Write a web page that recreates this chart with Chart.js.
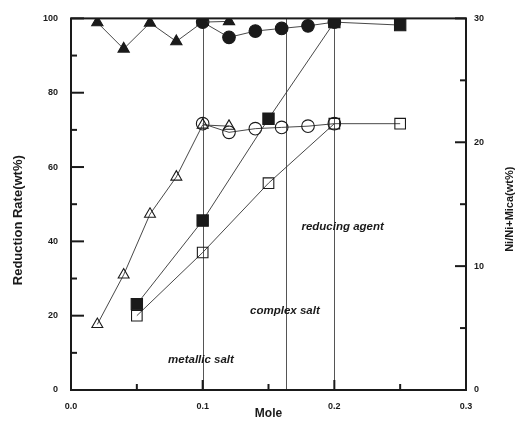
<!DOCTYPE html>
<html>
<head>
<meta charset="utf-8">
<script src="https://cdn.jsdelivr.net/npm/chart.js@4/dist/chart.umd.min.js"></script>
<style>
  html, body { margin: 0; padding: 0; background: #fff; }
  #wrap { width: 523px; height: 424px; }
</style>
</head>
<body>
<div id="wrap"><canvas id="c" width="523" height="424"></canvas></div>
<script>
// Mole fractions of each additive series
const metalMole   = [0.02, 0.04, 0.06, 0.08, 0.10, 0.12];
const complexMole = [0.10, 0.12, 0.14, 0.16, 0.18, 0.20];
const reducMole   = [0.05, 0.10, 0.15, 0.20, 0.25];

// Reduction rate (wt%), left axis
const metalRate   = [98.9, 91.8, 98.8, 93.8, 99.0, 99.2];
const complexRate = [99.0, 94.9, 96.6, 97.3, 98.0, 99.0];
const reducRate   = [23.1, 45.6, 73.0, 99.0, 98.2];

// Ni/Ni+Mica (wt%), right axis
const metalNi   = [5.3, 9.3, 14.2, 17.2, 21.4, 21.3];
const complexNi = [21.5, 20.8, 21.1, 21.2, 21.3, 21.5];
const reducNi   = [6.0, 11.1, 16.7, 21.5, 21.5];

// Axis ticks
const xTicks = [0.0, 0.1, 0.2, 0.3];
const xMinor = [0.05, 0.15, 0.25];
const leftTicks = [0, 20, 40, 60, 80, 100];
const leftMinor = [10, 30, 50, 70, 90];
const rightTicks = [0, 10, 20, 30];
const rightMinor = [5, 15, 25];

// Region boundaries and their labels
const boundaries = [0.1, 0.163, 0.2];
const regionLabels = ['metallic salt', 'complex salt', 'reducing agent'];
const regionAnchors = [[0.0737, 8.2], [0.136, 21.2], [0.175, 43.8]];

const INK = '#1a1a1a';
const pts = (xs, ys) => xs.map((x, i) => ({ x: x, y: ys[i] }));

function series(xs, ys, axis, style, filled, radius) {
  return {
    data: pts(xs, ys),
    yAxisID: axis,
    showLine: true,
    borderColor: '#333',
    borderWidth: 0.9,
    pointStyle: style,
    pointRadius: radius,
    pointBorderColor: INK,
    pointBorderWidth: 1.1,
    pointBackgroundColor: filled ? INK : 'rgba(0,0,0,0)',
    tension: 0
  };
}

const frame = {
  id: 'frame',
  beforeDatasetsDraw(chart) {
    const { ctx, chartArea: a, scales } = chart;
    ctx.save();
    ctx.strokeStyle = '#555';
    ctx.lineWidth = 1;
    boundaries.forEach(v => {
      const x = Math.round(scales.x.getPixelForValue(v)) + 0.5;
      ctx.beginPath();
      ctx.moveTo(x, a.top);
      ctx.lineTo(x, a.bottom);
      ctx.stroke();
    });
    ctx.restore();
  },
  afterDatasetsDraw(chart) {
    const { ctx, chartArea: a, scales } = chart;
    ctx.save();
    // plot border
    ctx.strokeStyle = INK;
    ctx.lineWidth = 2;
    ctx.strokeRect(a.left, a.top, a.right - a.left, a.bottom - a.top);

    // inward tick marks
    const hTick = (scale, vals, len, fromLeft) => vals.forEach(v => {
      const y = scale.getPixelForValue(v);
      ctx.beginPath();
      if (fromLeft) { ctx.moveTo(a.left, y); ctx.lineTo(a.left + len, y); }
      else { ctx.moveTo(a.right, y); ctx.lineTo(a.right - len, y); }
      ctx.stroke();
    });
    hTick(scales.y, leftTicks, 13, true);
    hTick(scales.y, leftMinor, 6, true);
    hTick(scales.y2, rightTicks, 11, false);
    hTick(scales.y2, rightMinor, 6, false);
    const vTick = (vals, len) => vals.forEach(v => {
      const x = scales.x.getPixelForValue(v);
      ctx.beginPath();
      ctx.moveTo(x, a.bottom);
      ctx.lineTo(x, a.bottom - len);
      ctx.stroke();
    });
    vTick(xTicks, 10);
    vTick(xMinor, 6);

    // region labels
    ctx.fillStyle = INK;
    ctx.font = 'italic bold 11.5px "Liberation Sans", Arial, sans-serif';
    ctx.textBaseline = 'middle';
    ctx.textAlign = 'left';
    regionLabels.forEach((t, i) => {
      const [mx, my] = regionAnchors[i];
      ctx.fillText(t, scales.x.getPixelForValue(mx), scales.y.getPixelForValue(my));
    });

    // axis titles
    ctx.textAlign = 'center';
    ctx.font = 'bold 12px "Liberation Sans", Arial, sans-serif';
    ctx.fillText('Mole', (a.left + a.right) / 2, 414);
    ctx.save();
    ctx.translate(18, (a.top + a.bottom) / 2 + 16);
    ctx.rotate(-Math.PI / 2);
    ctx.font = 'bold 13px "Liberation Sans", Arial, sans-serif';
    ctx.fillText('Reduction Rate(wt%)', 0, 0);
    ctx.restore();
    ctx.save();
    ctx.translate(510, (a.top + a.bottom) / 2 + 5);
    ctx.rotate(-Math.PI / 2);
    ctx.font = 'bold 11px "Liberation Sans", Arial, sans-serif';
    ctx.fillText('Ni/Ni+Mica(wt%)', 0, 0);
    ctx.restore();
    ctx.restore();
  }
};

const tickFont = { family: '"Liberation Sans", Arial, sans-serif', size: 9, weight: 'bold' };

new Chart(document.getElementById('c'), {
  type: 'line',
  data: {
    datasets: [
      series(metalMole, metalRate, 'y', 'triangle', true, 6.5),
      series(complexMole, complexRate, 'y', 'circle', true, 6.3),
      series(reducMole, reducRate, 'y', 'rect', true, 8),
      series(metalMole, metalNi, 'y2', 'triangle', false, 6.3),
      series(complexMole, complexNi, 'y2', 'circle', false, 6.3),
      series(reducMole, reducNi, 'y2', 'rect', false, 7.5)
    ]
  },
  options: {
    responsive: false,
    animation: false,
    layout: { padding: { top: 13, left: 0, right: 0, bottom: 0 } },
    plugins: { legend: { display: false }, tooltip: { enabled: false } },
    scales: {
      x: {
        type: 'linear', min: 0, max: 0.3,
        grid: { display: false, drawTicks: false },
        border: { display: false },
        afterBuildTicks: s => { s.ticks = xTicks.map(v => ({ value: v })); },
        afterFit: s => { s.height = 34; },
        ticks: { color: INK, font: tickFont, padding: 11, maxRotation: 0,
                 callback: v => Number(v).toFixed(1) }
      },
      y: {
        position: 'left', min: 0, max: 100,
        grid: { display: false, drawTicks: false },
        border: { display: false },
        afterBuildTicks: s => { s.ticks = leftTicks.map(v => ({ value: v })); },
        afterFit: s => { s.width = 71; },
        ticks: { color: INK, font: tickFont, padding: 13 }
      },
      y2: {
        position: 'right', min: 0, max: 30,
        grid: { display: false, drawTicks: false },
        border: { display: false },
        afterBuildTicks: s => { s.ticks = rightTicks.map(v => ({ value: v })); },
        afterFit: s => { s.width = 57; },
        ticks: { color: INK, font: tickFont, padding: 8 }
      }
    }
  },
  plugins: [frame]
});
</script>
</body>
</html>
